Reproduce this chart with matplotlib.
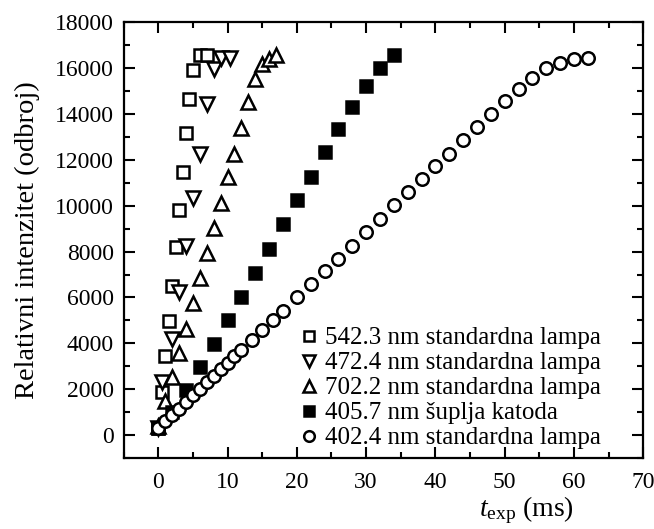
import matplotlib
matplotlib.use("Agg")
import matplotlib.pyplot as plt
from matplotlib.ticker import MultipleLocator

plt.rcParams['font.family'] = ['Liberation Serif', 'DejaVu Serif']
plt.rcParams['mathtext.fontset'] = 'custom'
plt.rcParams['mathtext.rm'] = 'Liberation Serif'
plt.rcParams['mathtext.it'] = 'Liberation Serif:italic'

# 542.3 nm standardna lampa (open squares)
x_542 = [0, 0.5, 1.0, 1.5, 2.0, 2.5, 3.0, 3.5, 4.0, 4.5, 5.0, 6.0, 7.0]
y_542 = [300, 1880, 3430, 4960, 6520, 8190, 9830, 11480, 13160, 14640, 15900, 16570, 16570]

# 472.4 nm standardna lampa (down triangles)
x_472 = [0, 0.5, 2, 3, 4, 5, 6, 7, 8, 9, 10.3]
y_472 = [300, 2300, 4200, 6220, 8230, 10330, 12270, 14420, 15950, 16450, 16450]

# 702.2 nm standardna lampa (up triangles)
x_702 = [0, 1, 2, 3, 4, 5, 6, 7, 8, 9, 10, 11, 12, 13, 14, 15, 16, 17]
y_702 = [400, 1500, 2550, 3570, 4640, 5740, 6860, 7940, 9010, 10100, 11230,
         12270, 13400, 14540, 15500, 16160, 16400, 16580]

# 405.7 nm šuplja katoda (filled squares)
x_405 = [0, 2, 4, 6, 8, 10, 12, 14, 16, 18, 20, 22, 24, 26, 28, 30, 32, 34]
y_405 = [300, 1010, 1960, 2970, 3990, 5000, 6010, 7070, 8130, 9190, 10240,
         11270, 12350, 13330, 14320, 15220, 16010, 16570]

# 402.4 nm standardna lampa (open circles)
x_402 = [0, 1, 2, 3, 4, 5, 6, 7, 8, 9, 10, 11, 12, 13.5, 15, 16.5, 18, 20,
         22, 24, 26, 28, 30, 32, 34, 36, 38, 40, 42, 44, 46, 48, 50, 52, 54,
         56, 58, 60, 62]
y_402 = [300, 600, 880, 1150, 1450, 1730, 2020, 2300, 2580, 2870, 3150, 3430,
         3720, 4150, 4580, 5000, 5430, 6010, 6570, 7170, 7680, 8260, 8840,
         9420, 10030, 10580, 11160, 11740, 12270, 12870, 13430, 13990, 14570,
         15100, 15580, 15990, 16230, 16380, 16450]

labels = ["542.3 nm standardna lampa", "472.4 nm standardna lampa",
          "702.2 nm standardna lampa", "405.7 nm šuplja katoda",
          "402.4 nm standardna lampa"]

fig = plt.figure(figsize=(6.54, 5.29), dpi=100)
ax = fig.add_axes([0.189, 0.134, 0.7946, 0.8242])

kw = dict(linestyle='none', markeredgecolor='black', markeredgewidth=1.8)
ax.plot(x_542, y_542, marker='s', markersize=9, markerfacecolor='white', label=labels[0], **kw)
ax.plot(x_472, y_472, marker='v', markersize=10, markerfacecolor='white', label=labels[1], **kw)
ax.plot(x_702, y_702, marker='^', markersize=10, markerfacecolor='white', label=labels[2], **kw)
ax.plot(x_405, y_405, marker='s', markersize=9, markerfacecolor='black', label=labels[3], **kw)
ax.plot(x_402, y_402, marker='o', markersize=9, markerfacecolor='white', label=labels[4], **kw)

ax.set_xlim(-5, 70)
ax.set_ylim(-1000, 18000)
ax.xaxis.set_major_locator(MultipleLocator(10))
ax.xaxis.set_minor_locator(MultipleLocator(5))
ax.yaxis.set_major_locator(MultipleLocator(2000))
ax.yaxis.set_minor_locator(MultipleLocator(1000))

for s in ax.spines.values():
    s.set_linewidth(1.6)
ax.tick_params(which='both', direction='in', top=True, right=True, width=1.5, labelsize=17)
ax.tick_params(which='major', length=8)
ax.tick_params(axis='y', which='major', pad=7)
ax.tick_params(axis='x', which='major', pad=10)
ax.tick_params(which='minor', length=4.5)

ax.set_ylabel("Relativni intenzitet (odbroj)", fontsize=20.5, labelpad=11)
ax.set_xlabel(r"$t_{\mathrm{exp}}$ (ms)", fontsize=20)
ax.xaxis.set_label_coords(0.776, -0.083)

leg = ax.legend(loc='lower right', bbox_to_anchor=(0.918, 0.02), frameon=False,
                fontsize=18, handletextpad=0.2, handlelength=0.9,
                labelspacing=0.1, borderaxespad=0.0, borderpad=0.0,
                markerscale=0.85)

fig.savefig("out.png", dpi=100)
